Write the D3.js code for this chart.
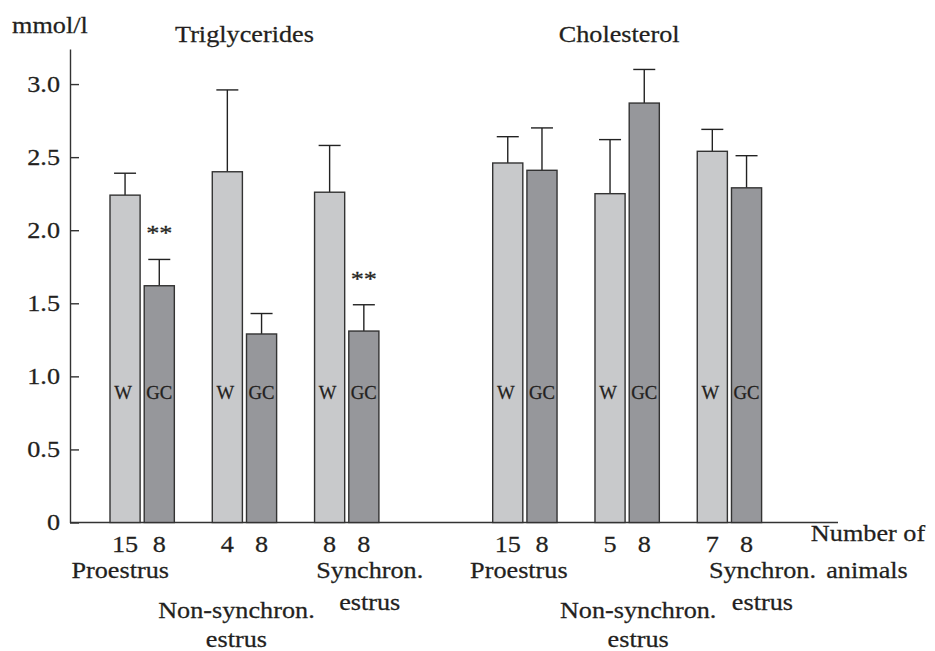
<!DOCTYPE html>
<html>
<head>
<meta charset="utf-8">
<script src="https://cdn.jsdelivr.net/npm/d3@7"></script>
<style>
  html, body { margin: 0; padding: 0; background: #fff; }
  svg { display: block; font-family: "Liberation Serif", "Times New Roman", serif; }
</style>
</head>
<body>
<svg id="chart" width="935" height="651"></svg>
<script>
// ---------------- data ----------------
const panels = ["Triglycerides", "Cholesterol"];
const phases = ["Proestrus", "Non-synchron. estrus", "Synchron. estrus"];
const groups = ["W", "GC"];

const tgW      = [2.24, 2.40, 2.26];
const tgWErr   = [0.15, 0.56, 0.32];
const tgGC     = [1.62, 1.29, 1.31];
const tgGCErr  = [0.18, 0.14, 0.18];
const tgGCSig  = ["**", "", "**"];

const chW      = [2.46, 2.25, 2.54];
const chWErr   = [0.18, 0.37, 0.15];
const chGC     = [2.41, 2.87, 2.29];
const chGCErr  = [0.29, 0.23, 0.22];
const chGCSig  = ["", "", ""];

const tgNW  = [15, 4, 8];
const tgNGC = [8, 8, 8];
const chNW  = [15, 5, 7];
const chNGC = [8, 8, 8];

const yTicks = [0, 0.5, 1.0, 1.5, 2.0, 2.5, 3.0];
const yLabel = "mmol/l";
const xLabel = ["Number of", "animals"];

// ---------------- layout ----------------
const S = 1.14;              // horizontal stretch of the wide serif face
const FS = 23;
const axisLeft = 70, axisRight = 838, plotTop = 49, plotBottom = 522.5;
const panelRange = [[110, 378.9], [492.7, 761.6]];
const titleDx = [0, -8];
const phaseLabelLayout = [
  [{dx: -22, lines: [["Proestrus", 577.7]]},
   {dx: -8,  lines: [["Non-synchron.", 618.3], ["estrus", 646.5]]},
   {dx: 23,  lines: [["Synchron.", 577.7], ["estrus", 610]]}],
  [{dx: -6,  lines: [["Proestrus", 577.7]]},
   {dx: 11,  lines: [["Non-synchron.", 618.3], ["estrus", 646.5]]},
   {dx: 33,  lines: [["Synchron.", 577.7], ["estrus", 610]]}]
];
const colors = { W: "#c8c9cb", GC: "#96979b" };
const ink = "#231f20";

const svg = d3.select("#chart");

const y = d3.scaleLinear().domain([0, 3.24]).range([plotBottom, plotTop]);

function stext(parent, x, yy, str, size, anchor, sx) {
  const g = parent.append("g").attr("transform", `translate(${x},${yy}) scale(${sx || S},1)`);
  g.append("text").attr("text-anchor", anchor || "middle")
    .attr("font-size", size).attr("fill", ink)
    .attr("stroke", ink).attr("stroke-width", 0.25)
    .text(str);
  return g;
}

// ---------------- y axis ----------------
const yAxis = d3.axisLeft(y)
  .tickValues(yTicks)
  .tickSize(-9)
  .tickSizeOuter(0)
  .tickPadding(10)
  .tickFormat(d => d === 0 ? "0" : d3.format(".1f")(d));

const ga = svg.append("g").attr("transform", `translate(${axisLeft},0)`).call(yAxis);
ga.select(".domain").attr("stroke", "#333").attr("stroke-width", 1.4);
ga.selectAll(".tick line").attr("stroke", "#333").attr("stroke-width", 1.4);
ga.selectAll(".tick text")
  .attr("x", 0)
  .attr("transform", `translate(-10,0) scale(${S},1)`)
  .attr("font-size", FS)
  .attr("font-family", "Liberation Serif, serif")
  .attr("fill", ink)
  .attr("stroke", ink).attr("stroke-width", 0.25);

// x axis baseline
svg.append("line")
  .attr("x1", axisLeft).attr("x2", axisRight)
  .attr("y1", y(0)).attr("y2", y(0))
  .attr("stroke", "#333").attr("stroke-width", 1.4);

stext(svg, 12, 33, yLabel, FS, "start");

// ---------------- panels ----------------
const panelData = [
  { W: tgW, WErr: tgWErr, GC: tgGC, GCErr: tgGCErr, sig: tgGCSig, NW: tgNW, NGC: tgNGC },
  { W: chW, WErr: chWErr, GC: chGC, GCErr: chGCErr, sig: chGCSig, NW: chNW, NGC: chNGC }
];

panels.forEach((pname, pi) => {
  const pd = panelData[pi];
  const x0 = d3.scaleBand().domain(phases).range(panelRange[pi])
    .paddingInner(0.371).paddingOuter(0);
  const x1 = d3.scaleBand().domain(groups).range([0, x0.bandwidth()])
    .paddingInner(0.12).paddingOuter(0);

  const pc = (panelRange[pi][0] + panelRange[pi][1]) / 2;
  stext(svg, pc + titleDx[pi], 42, pname, FS, "middle");

  const rows = [];
  phases.forEach((ph, i) => {
    rows.push({ ph, i, g: "W",  v: pd.W[i],  e: pd.WErr[i],  n: pd.NW[i],  sig: "" });
    rows.push({ ph, i, g: "GC", v: pd.GC[i], e: pd.GCErr[i], n: pd.NGC[i], sig: pd.sig[i] });
  });

  const gp = svg.append("g");
  const bx = d => x0(d.ph) + x1(d.g);
  const bw = x1.bandwidth();

  gp.selectAll("line.err").data(rows).join("line").attr("class", "err")
    .attr("x1", d => bx(d) + bw / 2).attr("x2", d => bx(d) + bw / 2)
    .attr("y1", d => y(d.v)).attr("y2", d => y(d.v + d.e))
    .attr("stroke", "#222").attr("stroke-width", 1.4);
  gp.selectAll("line.cap").data(rows).join("line").attr("class", "cap")
    .attr("x1", d => bx(d) + bw / 2 - 11).attr("x2", d => bx(d) + bw / 2 + 11)
    .attr("y1", d => y(d.v + d.e)).attr("y2", d => y(d.v + d.e))
    .attr("stroke", "#222").attr("stroke-width", 1.4);

  gp.selectAll("rect.bar").data(rows).join("rect").attr("class", "bar")
    .attr("x", bx).attr("width", bw)
    .attr("y", d => y(d.v)).attr("height", d => y(0) - y(d.v))
    .attr("fill", d => colors[d.g])
    .attr("stroke", "#333").attr("stroke-width", 1.4);

  rows.forEach(d => {
    stext(gp, bx(d) + bw / 2 - (d.g === "W" ? 2 : 0), 398.5, d.g, 18, "middle", 1.04);
    stext(gp, bx(d) + bw / 2, 552, String(d.n), FS, "middle");
    if (d.sig) stext(gp, bx(d) + bw / 2, y(d.v + d.e) - 19, d.sig, 21, "middle", 1.25);
  });

  phases.forEach((ph, i) => {
    const L = phaseLabelLayout[pi][i];
    const c = x0(ph) + x0.bandwidth() / 2 + L.dx;
    L.lines.forEach(([t, yy]) => stext(svg, c, yy, t, FS, "middle"));
  });
});

stext(svg, 868, 541, xLabel[0], FS, "middle");
stext(svg, 867, 577.7, xLabel[1], FS, "middle");
</script>
</body>
</html>
